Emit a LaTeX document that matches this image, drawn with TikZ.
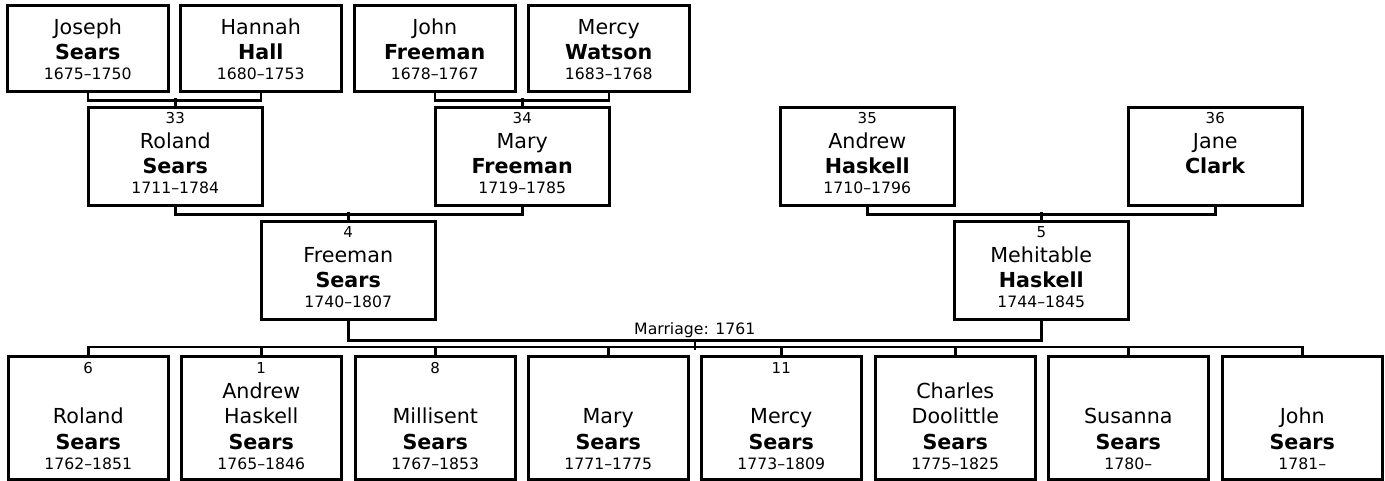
\documentclass[tikz,border=0pt]{standalone}
\usepackage{fontspec}
\setmainfont{DejaVu Sans}
\newcommand{\idnum}[1]{{\fontsize{11.25}{14}\selectfont #1}}
\newcommand{\years}[1]{{\fontsize{11.75}{14}\selectfont #1}}

\begin{document}
\begin{tikzpicture}[x=0.75pt,y=-0.75pt,line width=1.9pt,
    box/.style={draw,inner sep=0pt,align=center,anchor=north west,%
      font=\fontsize{15.5}{19}\selectfont},
    gen3/.style={box,text width=120.75pt,text height=21.75pt,text depth=42.75pt},
    gen2/.style={box,text width=130.5pt,text height=12pt,text depth=61.5pt},
    kid/.style={box,text width=120pt,text height=12.75pt,text depth=79.5pt}]
      \useasboundingbox (0,0) rectangle (1385,481) ;
      % great-grandparents
      \node[gen3] (josephS) at (6,4) {Joseph\\ \textbf{Sears}\\[-4pt] \years{1675--1750}} ;
      \node[gen3] (hannahH) at (179,4) {Hannah\\ \textbf{Hall}\\[-4pt] \years{1680--1753}} ;
      \node[gen3] (johnF) at (353,4) {John\\ \textbf{Freeman}\\[-4pt] \years{1678--1767}} ;
      \node[gen3] (mercyW) at (527,4) {Mercy\\ \textbf{Watson}\\[-4pt] \years{1683--1768}} ;
      % grandparents
      \node[gen2] (p33) at (87,106) {\idnum{33}\\ Roland\\ \textbf{Sears}\\[-4pt] \years{1711--1784}} ;
      \node[gen2] (p34) at (434,106) {\idnum{34}\\ Mary\\ \textbf{Freeman}\\[-4pt] \years{1719--1785}} ;
      \node[gen2] (p35) at (779,106) {\idnum{35}\\ Andrew\\ \textbf{Haskell}\\[-4pt] \years{1710--1796}} ;
      \node[gen2] (p36) at (1127,106) {\idnum{36}\\ Jane\\ \textbf{Clark}} ;
      % parents
      \node[gen2] (p4) at (260,220) {\idnum{4}\\ Freeman\\ \textbf{Sears}\\[-4pt] \years{1740--1807}} ;
      \node[gen2] (p5) at (953,220) {\idnum{5}\\ Mehitable\\ \textbf{Haskell}\\[-4pt] \years{1744--1845}} ;
      % children
      \node[kid] (k1) at (7,355) {\idnum{6}\\ ~\\ Roland\\ \textbf{Sears}\\[-4pt] \years{1762--1851}} ;
      \node[kid] (k2) at (180,355) {\idnum{1}\\ Andrew\\ Haskell\\ \textbf{Sears}\\[-4pt] \years{1765--1846}} ;
      \node[kid] (k3) at (354,355) {\idnum{8}\\ ~\\ Millisent\\ \textbf{Sears}\\[-4pt] \years{1767--1853}} ;
      \node[kid] (k4) at (527,355) {~\\ ~\\ Mary\\ \textbf{Sears}\\[-4pt] \years{1771--1775}} ;
      \node[kid] (k5) at (700,355) {\idnum{11}\\ ~\\ Mercy\\ \textbf{Sears}\\[-4pt] \years{1773--1809}} ;
      \node[kid] (k6) at (874,355) {~\\ Charles\\ Doolittle\\ \textbf{Sears}\\[-4pt] \years{1775--1825}} ;
      \node[kid] (k7) at (1047,355) {~\\ ~\\ Susanna\\ \textbf{Sears}\\[-4pt] \years{1780--}} ;
      \node[kid] (k8) at (1221,355) {~\\ ~\\ John\\ \textbf{Sears}\\[-4pt] \years{1781--}} ;
      % couples
      \draw (josephS.south) -- ++(0,8) -| (hannahH.south) ;
      \draw (johnF.south) -- ++(0,8) -| (mercyW.south) ;
      \draw (p33.north) -- ++(0,-8) ;
      \draw (p34.north) -- ++(0,-8) ;
      \draw (p33.south) -- ++(0,8) -| (p34.south) ;
      \draw (p35.south) -- ++(0,8) -| (p36.south) ;
      \draw (p4.north) -- ++(0,-8) ;
      \draw (p5.north) -- ++(0,-8) ;
      \draw (p4.south) -- ++(0,20) -| node[pos=.25,above,inner sep=1pt,%
      font=\fontsize{11.75}{14}\selectfont] (wed) {Marriage: 1761} %
      coordinate[pos=.25] (mar) (p5.south) ;
      \draw (mar) -- ++(0,9) ;
      \draw (k1.north) -- ++(0,-8) -| (k8.north) ;
      \foreach \k in {2,...,7} \draw (k\k.north) -- ++(0,-8) ;
\end{tikzpicture}
\end{document}
